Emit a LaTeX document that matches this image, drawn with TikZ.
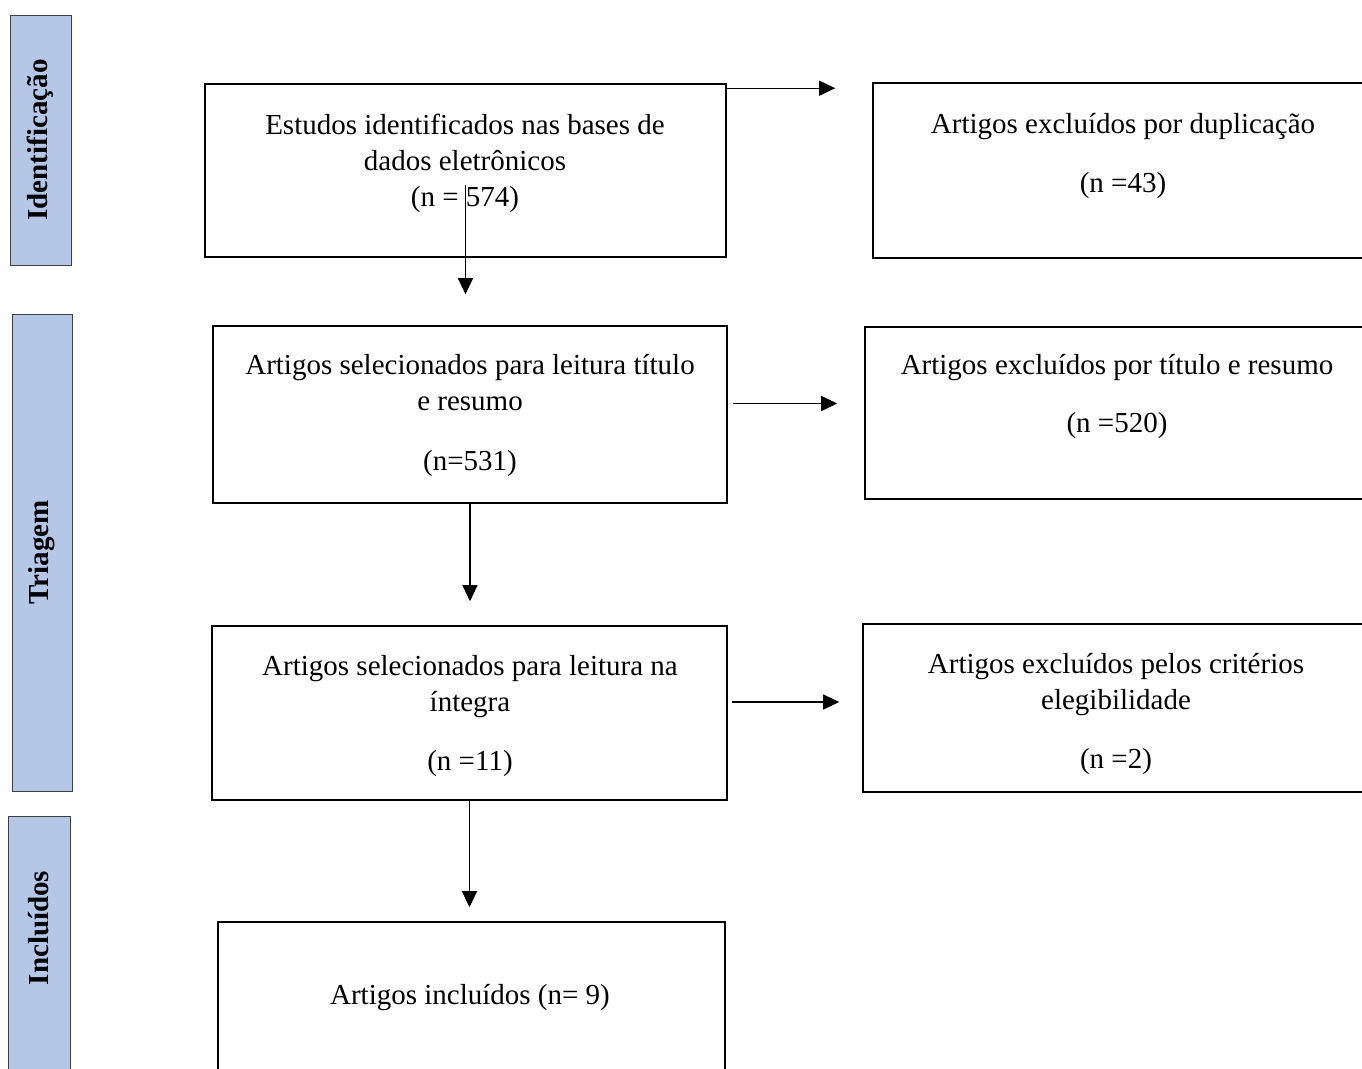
\documentclass[tikz,border=0pt]{standalone}
\usepackage{fontspec}
\setmainfont{Liberation Serif}
\usetikzlibrary{arrows.meta}
\definecolor{stageblue}{HTML}{B4C7E7}
\tikzset{
    box/.style={draw, line width=1.6pt, inner sep=0pt},
    stage/.style={draw=black!75, fill=stageblue, line width=0.9pt, inner sep=0pt},
    txt/.style={align=center, anchor=north, inner sep=0pt, font=\fontsize{29}{36}\selectfont},
    stagetxt/.style={rotate=90, inner sep=0pt, font=\fontsize{29}{36}\selectfont\bfseries},
    arr/.style={-{Triangle[length=16pt,width=15pt]}, line width=1.2pt}
}
\begin{document}
\begin{tikzpicture}[x=1pt,y=-1pt]
    \useasboundingbox (0,0) rectangle (1362,1068);
    \clip (0,0) rectangle (1362,1068);
    % stages
    \node[stage, minimum width=61, minimum height=250] (idbar) at (40.5,140) {};
    \node[stage, minimum width=60, minimum height=477] (tribar) at (42,552.5) {};
    \node[stage, minimum width=62, minimum height=264] (incbar) at (39,948) {};
    \node[stagetxt] (idlbl) at (idbar.center) {Identificação};
    \node[stagetxt] (trilbl) at (tribar.center) {Triagem};
    \node[stagetxt] (inclbl) at (39,928) {Incluídos};
    % boxes
    \node[box, minimum width=521, minimum height=173] (ident) at (465.5,170.5) {};
    \node[box, minimum width=500, minimum height=175] (dup) at (1123,170.5) {};
    \node[box, minimum width=514, minimum height=177] (selt) at (470,414.5) {};
    \node[box, minimum width=504, minimum height=172] (exct) at (1117,413) {};
    \node[box, minimum width=515, minimum height=174] (seli) at (469.5,713) {};
    \node[box, minimum width=506, minimum height=168] (exci) at (1116,708) {};
    \node[box, minimum width=507, minimum height=158] (incl) at (471.5,1001) {};
    % texts
    \node[txt] (identtxt) at (465,109) {\strut Estudos identificados nas bases de\\ dados eletrônicos\\ (n = 574)};
    \node[txt] (duptxt) at (1123,108) {\strut Artigos excluídos por duplicação\\[23pt] (n =43)};
    \node[txt] (stxt) at (470,349) {\strut Artigos selecionados para leitura título\\ e resumo\\[24pt] (n=531)};
    \node[txt] (extxt) at (1117,349) {\strut Artigos excluídos por título e resumo\\[22pt] (n =520)};
    \node[txt] (sitxt) at (470,650) {\strut Artigos selecionados para leitura na\\ íntegra\\[23pt] (n =11)};
    \node[txt] (eitxt) at (1116,648) {\strut Artigos excluídos pelos critérios\\ elegibilidade\\[23pt] (n =2)};
    \node[txt] (incltxt) at (470,979) {\strut Artigos incluídos (n= 9)};
    % arrows
    \draw[arr, shorten >=37pt] ([yshift=-5pt]ident.north east) -- ([yshift=-5pt]ident.north east -| dup.west);
    \draw[arr, shorten >=31pt] ([yshift=-14pt]ident.center) -- (ident.center |- selt.north);
    \draw[arr, shorten <=5pt, shorten >=27pt] ([yshift=11pt]selt.east) -- ([yshift=11pt]selt.east -| exct.west);
    \draw[arr, shorten >=24pt] (selt.south) -- (selt.south |- seli.north);
    \draw[arr, shorten <=4pt, shorten >=23pt] ([yshift=11pt]seli.east) -- ([yshift=11pt]seli.east -| exci.west);
    \draw[arr, shorten >=14pt] (seli.south) -- (seli.south |- incl.north);
\end{tikzpicture}
\end{document}
